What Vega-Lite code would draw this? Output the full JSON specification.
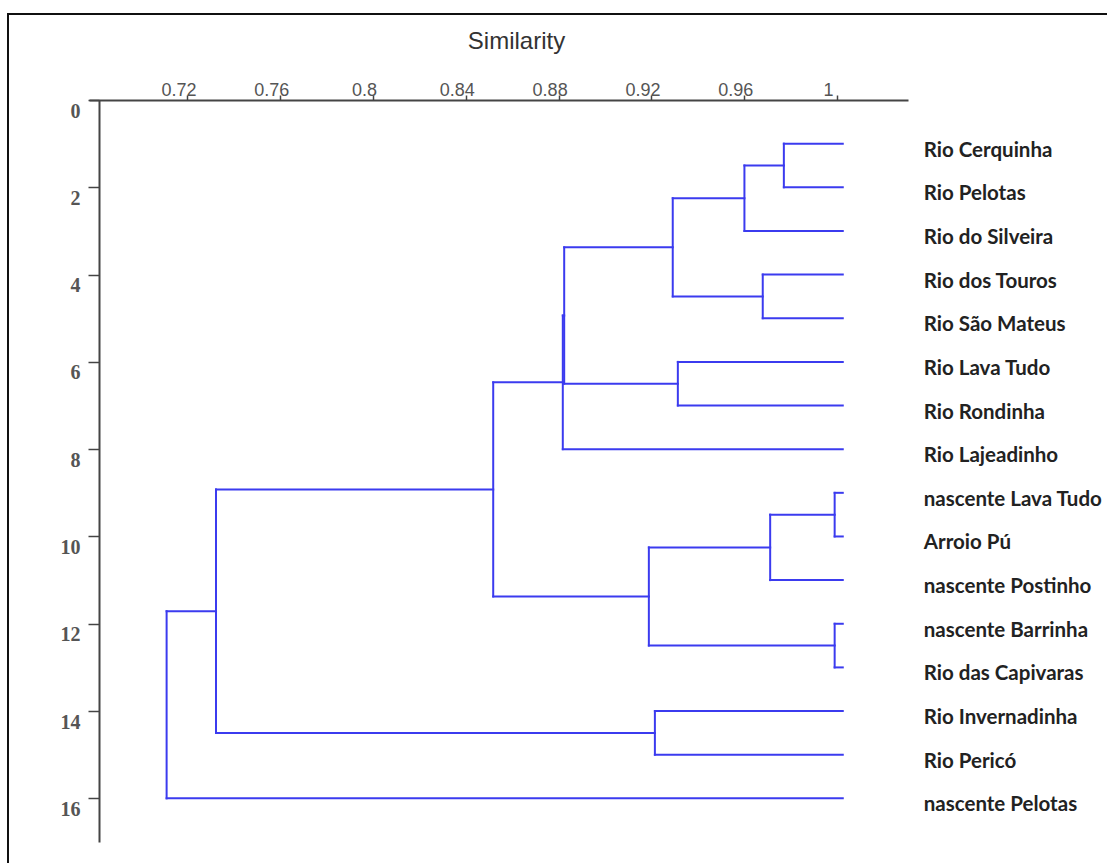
{
  "$schema": "https://vega.github.io/schema/vega-lite/v6.json",
  "autosize": {"type": "none"},
  "padding": {"left": 89, "top": 100, "right": 199, "bottom": 21},
  "width": 819,
  "height": 742,
  "background": "white",
  "config": {
    "view": {"stroke": null},
    "font": "Liberation Sans"
  },
  "datasets": {
    "tree": [
      {"node": "Rio Cerquinha", "leaf": true, "sim": 1.0025, "y": 1, "parent": 0.9771},
      {"node": "Rio Pelotas", "leaf": true, "sim": 1.0025, "y": 2, "parent": 0.9771},
      {"node": "Rio do Silveira", "leaf": true, "sim": 1.0025, "y": 3, "parent": 0.9601},
      {"node": "Rio dos Touros", "leaf": true, "sim": 1.0025, "y": 4, "parent": 0.968},
      {"node": "Rio São Mateus", "leaf": true, "sim": 1.0025, "y": 5, "parent": 0.968},
      {"node": "Rio Lava Tudo", "leaf": true, "sim": 1.0025, "y": 6, "parent": 0.9314},
      {"node": "Rio Rondinha", "leaf": true, "sim": 1.0025, "y": 7, "parent": 0.9314},
      {"node": "Rio Lajeadinho", "leaf": true, "sim": 1.0025, "y": 8, "parent": 0.8818},
      {"node": "nascente Lava Tudo", "leaf": true, "sim": 1.0025, "y": 9, "parent": 0.999},
      {"node": "Arroio Pú", "leaf": true, "sim": 1.0025, "y": 10, "parent": 0.999},
      {"node": "nascente Postinho", "leaf": true, "sim": 1.0025, "y": 11, "parent": 0.9712},
      {"node": "nascente Barrinha", "leaf": true, "sim": 1.0025, "y": 12, "parent": 0.999},
      {"node": "Rio das Capivaras", "leaf": true, "sim": 1.0025, "y": 13, "parent": 0.999},
      {"node": "Rio Invernadinha", "leaf": true, "sim": 1.0025, "y": 14, "parent": 0.9215},
      {"node": "Rio Pericó", "leaf": true, "sim": 1.0025, "y": 15, "parent": 0.9215},
      {"node": "nascente Pelotas", "leaf": true, "sim": 1.0025, "y": 16, "parent": 0.711},
      {"node": "A", "leaf": false, "sim": 0.9771, "lo": 1, "hi": 2, "y": 1.5, "parent": 0.9601},
      {"node": "B", "leaf": false, "sim": 0.9601, "lo": 1.5, "hi": 3, "y": 2.25, "parent": 0.9292},
      {"node": "C", "leaf": false, "sim": 0.968, "lo": 4, "hi": 5, "y": 4.5, "parent": 0.9292},
      {"node": "D", "leaf": false, "sim": 0.9292, "lo": 2.25, "hi": 4.5, "y": 3.375, "parent": 0.8824},
      {"node": "E", "leaf": false, "sim": 0.9314, "lo": 6, "hi": 7, "y": 6.5, "parent": 0.8824},
      {"node": "F", "leaf": false, "sim": 0.8824, "lo": 3.375, "hi": 6.5, "y": 4.9375, "parent": 0.8818},
      {"node": "G", "leaf": false, "sim": 0.8818, "lo": 4.9375, "hi": 8, "y": 6.46875, "parent": 0.8518},
      {"node": "H", "leaf": false, "sim": 0.999, "lo": 9, "hi": 10, "y": 9.5, "parent": 0.9712},
      {"node": "I", "leaf": false, "sim": 0.9712, "lo": 9.5, "hi": 11, "y": 10.25, "parent": 0.9189},
      {"node": "J", "leaf": false, "sim": 0.999, "lo": 12, "hi": 13, "y": 12.5, "parent": 0.9189},
      {"node": "K", "leaf": false, "sim": 0.9189, "lo": 10.25, "hi": 12.5, "y": 11.375, "parent": 0.8518},
      {"node": "L", "leaf": false, "sim": 0.8518, "lo": 6.46875, "hi": 11.375, "y": 8.921875, "parent": 0.7323},
      {"node": "M", "leaf": false, "sim": 0.9215, "lo": 14, "hi": 15, "y": 14.5, "parent": 0.7323},
      {"node": "N", "leaf": false, "sim": 0.7323, "lo": 8.921875, "hi": 14.5, "y": 11.7109, "parent": 0.711},
      {"node": "O", "leaf": false, "sim": 0.711, "lo": 11.7109, "hi": 16, "y": 13.855, "parent": null}
    ]
  },
  "data": {"name": "tree"},
  "layer": [
    {
      "description": "vertical joins at each merge level",
      "transform": [{"filter": "!datum.leaf"}],
      "mark": {"type": "rule", "color": "#3b3bef", "strokeWidth": 2, "strokeCap": "square"},
      "encoding": {
        "x": {
          "field": "sim", "type": "quantitative",
          "scale": {"domain": [0.67754, 1.03062], "nice": false, "zero": false},
          "axis": {
            "orient": "top",
            "values": [0.72, 0.76, 0.8, 0.84, 0.88, 0.92, 0.96, 1],
            "format": ".2~f",
            "title": "Similarity",
            "titleFont": "Liberation Sans",
            "titleFontSize": 24,
            "titleFontWeight": "normal",
            "titleColor": "#333333",
            "titleX": 427,
            "titleY": -59,
            "titleAlign": "center",
            "titleBaseline": "middle",
            "labelFont": "Liberation Sans",
            "labelFontSize": 18,
            "labelColor": "#555555",
            "labelOffset": -9,
            "labelPadding": 0,
            "labelBaseline": "alphabetic",
            "tickSize": 5,
            "tickColor": "#444444",
            "tickWidth": 1.5,
            "domainColor": "#444444",
            "domainWidth": 2,
            "grid": false
          }
        },
        "y": {
          "field": "lo", "type": "quantitative",
          "scale": {"domain": [0, 17], "nice": false, "zero": false, "reverse": true},
          "axis": {
            "orient": "left",
            "offset": -10,
            "values": [0, 2, 4, 6, 8, 10, 12, 14, 16],
            "title": null,
            "labelFont": "Liberation Serif",
            "labelFontSize": 20,
            "labelFontWeight": "bold",
            "labelColor": "#555555",
            "labelOffset": 11,
            "labelPadding": 8,
            "tickSize": 11,
            "tickColor": "#444444",
            "tickWidth": 1.5,
            "domainColor": "#444444",
            "domainWidth": 2,
            "grid": false
          }
        },
        "y2": {"field": "hi"}
      }
    },
    {
      "description": "horizontal branches from each node back to its parent",
      "transform": [{"filter": "datum.parent != null"}],
      "mark": {"type": "rule", "color": "#3b3bef", "strokeWidth": 2, "strokeCap": "square"},
      "encoding": {
        "x": {"field": "parent", "type": "quantitative", "scale": {"domain": [0.67754, 1.03062], "nice": false, "zero": false}},
        "x2": {"field": "sim"},
        "y": {"field": "y", "type": "quantitative", "scale": {"domain": [0, 17], "nice": false, "zero": false, "reverse": true}}
      }
    },
    {
      "description": "site names at the leaf tips",
      "transform": [{"filter": "datum.leaf"}],
      "mark": {"type": "text", "align": "left", "baseline": "middle", "dx": 81, "dy": 7, "font": "Lato", "fontSize": 20.5, "fontWeight": "bold", "color": "#222222", "clip": false},
      "encoding": {
        "x": {"field": "sim", "type": "quantitative", "scale": {"domain": [0.67754, 1.03062], "nice": false, "zero": false}},
        "y": {"field": "y", "type": "quantitative", "scale": {"domain": [0, 17], "nice": false, "zero": false, "reverse": true}},
        "text": {"field": "node"}
      }
    },
    {
      "description": "outer frame of the figure",
      "mark": {"type": "rect", "fill": null, "stroke": "#111111", "strokeWidth": 1.5, "clip": false},
      "encoding": {
        "x": {"datum": 0.6426, "type": "quantitative", "scale": {"domain": [0.67754, 1.03062], "nice": false, "zero": false}},
        "x2": {"datum": 1.4},
        "y": {"datum": -1.97, "type": "quantitative", "scale": {"domain": [0, 17], "nice": false, "zero": false, "reverse": true}},
        "y2": {"datum": 25}
      }
    }
  ]
}
